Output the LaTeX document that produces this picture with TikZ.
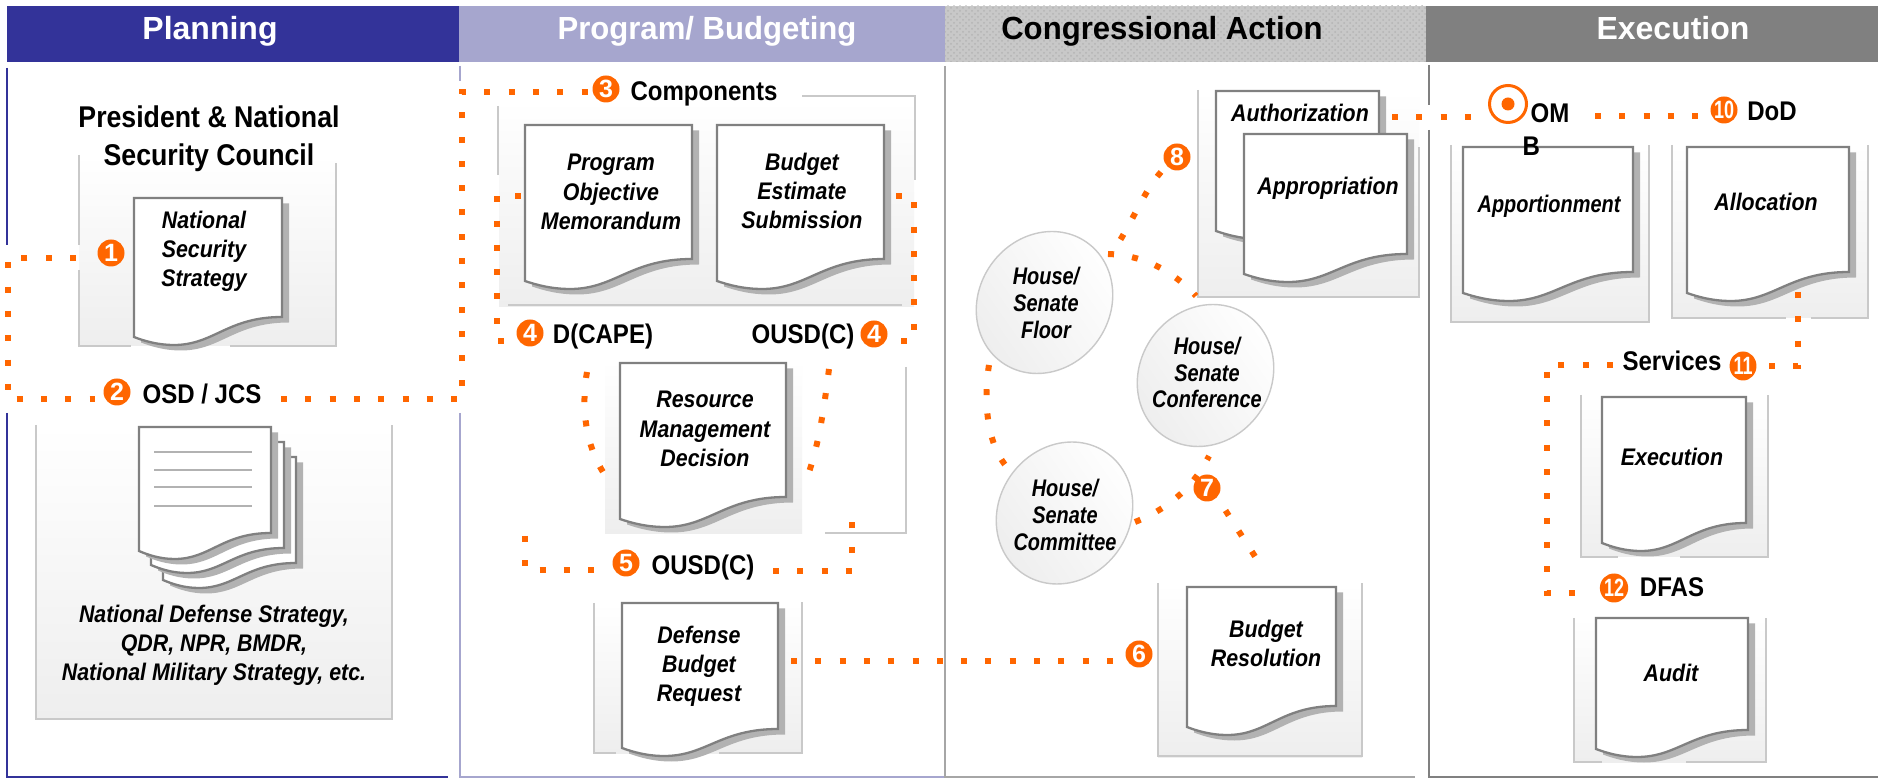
\documentclass[tikz,border=0pt]{standalone}
\usepackage{fontspec}
\usetikzlibrary{patterns,shapes.geometric}
\setmainfont{Liberation Sans}
\newfontfamily\condfont[FakeStretch=0.89]{Liberation Sans}
\newfontfamily\hdrfont[FakeStretch=0.972]{Liberation Sans}
\newfontfamily\tightfont[FakeStretch=0.83]{Liberation Sans}
\newfontfamily\narrowfont[FakeStretch=0.72]{Liberation Sans}
\definecolor{planblue}{HTML}{333399}
\definecolor{proglilac}{HTML}{A6A6CE}
\definecolor{congray}{HTML}{C8C8C8}
\definecolor{conhatch}{HTML}{B4B4B4}
\definecolor{execgray}{HTML}{808080}
\definecolor{dotorange}{HTML}{FF6600}
\definecolor{boxedge}{HTML}{C9C9C9}
\definecolor{boxlow}{HTML}{EEEEEE}
\definecolor{sheetedge}{HTML}{808080}
\definecolor{sheetshade}{HTML}{B2B2B2}
\tikzset{
  hdrtext/.style={font=\bfseries\fontsize{16}{19}\selectfont,inner sep=0pt,anchor=base},
  hdrnarrow/.style={hdrtext,font=\hdrfont\bfseries\fontsize{16}{19}\selectfont},
  lbl/.style={font=\condfont\bfseries\fontsize{13.5}{16}\selectfont,inner sep=0pt,text=black},
  titlelbl/.style={font=\condfont\bfseries\fontsize{15}{19}\selectfont,inner sep=0pt,align=center},
  doctext/.style={font=\condfont\bfseries\itshape\fontsize{12}{14.6}\selectfont,inner sep=0pt,align=center},
  tighttext/.style={font=\tightfont\bfseries\itshape\fontsize{12}{13.4}\selectfont,inner sep=0pt,align=center},
  dotline/.style={draw=dotorange,line width=3pt,dash pattern=on 3pt off 9.15pt},
  boxline/.style={draw=boxedge,line width=0.8pt},
  planline/.style={draw=planblue,line width=0.9pt},
  progline/.style={draw=proglilac,line width=0.9pt},
  congline/.style={draw=execgray!70,line width=0.9pt},
  execline/.style={draw=execgray,line width=0.9pt},
  boxfill/.style={top color=white,bottom color=boxlow,draw=none},
  sheetshadow/.style={fill=sheetshade,draw=none},
  sheetface/.style={fill=white,draw=sheetedge,line width=1.15pt,line join=miter},
  ruleline/.style={draw=sheetshade,line width=1pt},
  badge/.style={circle,fill=dotorange,text=white,minimum size=13.5pt,inner sep=0pt,
    font=\bfseries\fontsize{12.5}{13}\selectfont},
  oval/.style={ellipse,fill=dotorange,text=white,minimum width=13pt,minimum height=14.5pt,inner sep=0pt,
    font=\narrowfont\bfseries\fontsize{12.5}{13}\selectfont},
  bubble/.style={ellipse,draw=boxedge,line width=0.7pt,inner sep=0pt,minimum width=73.5pt,minimum height=65.5pt,
    rotate=55,top color=white,bottom color=boxlow,shading angle=-55},
}
\newcommand{\docsheet}[5]{%
  \pgfmathsetmacro\dwd{#3-#1}%
  \pgfmathsetmacro\dca{#3-0.37*\dwd}%
  \pgfmathsetmacro\dcb{#3-0.46*\dwd}%
  \pgfmathsetmacro\dmx{#1+0.27*\dwd}%
  \pgfmathsetmacro\dmy{#5+8}%
  \pgfmathsetmacro\dcc{#1+0.16*\dwd}%
  \pgfmathsetmacro\dcd{#1+0.07*\dwd}%
  \pgfmathsetmacro\dce{#5+4}%
  \fill[sheetshadow,shift={(7,5.5)}] (#1,#2) -- (#3,#2) -- (#3,#4)
     .. controls (\dca,#4) and (\dcb,\dmy) .. (\dmx,\dmy)
     .. controls (\dcc,\dmy) and (\dcd,\dce) .. (#1,#5) -- cycle;
  \filldraw[sheetface] (#1,#2) -- (#3,#2) -- (#3,#4)
     .. controls (\dca,#4) and (\dcb,\dmy) .. (\dmx,\dmy)
     .. controls (\dcc,\dmy) and (\dcd,\dce) .. (#1,#5) -- cycle;
}
\begin{document}
\begin{tikzpicture}[x=0.5pt,y=-0.5pt]
\useasboundingbox (0,0) rectangle (1878,779);
\fill[white] (0,0) rectangle (1878,779);

% header bands
\fill[planblue] (7,6) rectangle (459,62);
\fill[proglilac] (459,6) rectangle (945,62);
\fill[congray] (945,6) rectangle (1426,62);
\fill[pattern=crosshatch dots,pattern color=conhatch] (945,6) rectangle (1426,62);
\fill[execgray] (1426,6) rectangle (1878,62);
\node[hdrtext,text=white] (hPlan) at (210,40) {Planning};
\node[hdrnarrow,text=white] (hProg) at (707,40) {Program/ Budgeting};
\node[hdrnarrow,text=black] (hCong) at (1162,40) {Congressional Action};
\node[hdrtext,text=white] (hExec) at (1673,40) {Execution};

% panel rules
\draw[planline] (7,68) -- (7,245);
\draw[planline] (7,413) -- (7,777) -- (448,777);
\draw[progline] (460,66) -- (460,81);
\draw[progline] (460,413) -- (460,777) -- (945,777);
\draw[congline] (945,66) -- (945,777) -- (1415,777);
\draw[execline] (1429,65) -- (1429,105);
\draw[execline] (1429,130) -- (1429,777) -- (1878,777);

% shaded panels behind the documents
\shade[boxfill] (79,155) rectangle (336,346);
\draw[boxline] (79,155) -- (79,245);
\draw[boxline] (79,270) -- (79,346) -- (131,346);
\draw[boxline] (230,346) -- (336,346) -- (336,163);
\shade[boxfill] (36,425) rectangle (392,719);
\draw[boxline] (36,425) -- (36,719) -- (392,719) -- (392,425);
\shade[boxfill] (499,100) rectangle (914,307);
\draw[boxline] (498,106) -- (498,175);
\draw[boxline] (802,96) -- (915,96) -- (915,180);
\draw[boxline] (508,305) -- (902,305);
\shade[boxfill] (605,360) rectangle (802,534);
\draw[boxline] (906,367) -- (906,533) -- (825,533);
\shade[boxfill] (594,603) rectangle (802,753);
\draw[boxline] (594,603) -- (594,753) -- (616,753);
\draw[boxline] (719,753) -- (802,753) -- (802,602);
\shade[boxfill] (1198,90) rectangle (1419,297);
\draw[boxline] (1198,90) -- (1198,297) -- (1419,297) -- (1419,147);
\shade[boxfill] (1158,583) rectangle (1362,757);
\draw[boxline] (1158,583) -- (1158,756) -- (1362,756) -- (1362,583);
\shade[boxfill] (1451,145) rectangle (1649,322);
\draw[boxline] (1451,145) -- (1451,322) -- (1649,322) -- (1649,145);
\shade[boxfill] (1672,145) rectangle (1868,318);
\draw[boxline] (1672,145) -- (1672,318) -- (1786,318);
\draw[boxline] (1811,318) -- (1868,318) -- (1868,145);
\shade[boxfill] (1581,395) rectangle (1768,557);
\draw[boxline] (1581,395) -- (1581,557) -- (1618,557);
\draw[boxline] (1680,557) -- (1768,557) -- (1768,395);
\shade[boxfill] (1574,618) rectangle (1766,762);
\draw[boxline] (1574,618) -- (1574,762) -- (1602,762);
\draw[boxline] (1686,762) -- (1766,762) -- (1766,618);

% documents
\docsheet{134}{198}{282}{317}{337}
\docsheet{163}{457}{296}{563}{580}
\docsheet{151}{442}{284}{548}{565}
\docsheet{139}{427}{271}{533}{551}
\draw[ruleline] (154,452) -- (252,452);
\draw[ruleline] (154,470) -- (252,470);
\draw[ruleline] (154,487) -- (252,487);
\draw[ruleline] (154,506) -- (252,506);
\docsheet{525}{125}{692}{259}{281}
\docsheet{717}{125}{884}{259}{281}
\docsheet{620}{363}{786}{497}{519}
\docsheet{622}{603}{778}{729}{748}
\docsheet{1216}{91}{1379}{211}{231}
\docsheet{1244}{134}{1407}{254}{274}
\docsheet{1187}{587}{1336}{706}{727}
\docsheet{1463}{147}{1633}{272}{293}
\docsheet{1687}{147}{1849}{272}{293}
\docsheet{1602}{397}{1746}{523}{543}
\docsheet{1596}{618}{1748}{730}{749}

% committee bubbles
\node[bubble] (floorB) at (1044.5,302.5) {};
\node[bubble] (confB) at (1205.5,375.5) {};
\node[bubble] (commB) at (1064.5,513) {};

% badges
\node[badge] (b1) at (111,253) {1};
\node[badge] (b2) at (117,392) {2};
\node[badge] (b3) at (606,89) {3};
\node[badge] (b4a) at (530,333) {4};
\node[badge] (b4b) at (874,334) {4};
\node[badge] (b5) at (626,563) {5};
\node[badge] (b6) at (1139,654) {6};
\node[badge] (b8) at (1177,157) {8};
\node[circle,draw=dotorange,line width=1.5pt,fill=white,minimum size=18.5pt,inner sep=0pt] (b9) at (1508,104) {};
\fill[dotorange] (b9.center) circle (6.5);
\node[badge,font=\narrowfont\bfseries\fontsize{12.5}{13}\selectfont] (b10) at (1724,110) {10};
\node[oval] (b11) at (1743,366) {11};
\node[oval] (b12) at (1614,588) {12};

% connector way-points
\coordinate (p1s) at (76,258); \coordinate (p1a) at (7.5,258); \coordinate (p1b) at (7.5,399); \coordinate (p1e) at (95,399);
\coordinate (p2s) at (281,399); \coordinate (p2a) at (462,399); \coordinate (p2b) at (462,92); \coordinate (p2e) at (588,92);
\coordinate (p3s) at (521,196); \coordinate (p3a) at (497,196); \coordinate (p3b) at (497,341); \coordinate (p3e) at (512,341);
\coordinate (p4s) at (896,196); \coordinate (p4a) at (914,196); \coordinate (p4b) at (914,341); \coordinate (p4e) at (893,341);
\coordinate (p5s) at (587,372); \coordinate (p5e) at (603,472);
\coordinate (p6s) at (829,369); \coordinate (p6e) at (809,472);
\coordinate (p7s) at (525,536); \coordinate (p7a) at (525,570); \coordinate (p7e) at (595,570);
\coordinate (p8s) at (773,571); \coordinate (p8a) at (852,571); \coordinate (p8e) at (852,522);
\coordinate (p9s) at (791,661); \coordinate (p9e) at (1113,661);
\coordinate (p10s) at (1161,172); \coordinate (p10e) at (1111,254);
\coordinate (p11s) at (1108,254); \coordinate (p11e) at (1196,296);
\coordinate (p12s) at (989,365); \coordinate (p12e) at (1006,466);
\coordinate (p13s) at (1135,522); \coordinate (p13e) at (1209,456);
\coordinate (p14s) at (1225.5,510.5); \coordinate (p14e) at (1256,558);
\coordinate (p15s) at (1392,117); \coordinate (p15e) at (1471,117);
\coordinate (p16s) at (1595,116); \coordinate (p16e) at (1698,116);
\coordinate (p17s) at (1798,292); \coordinate (p17a) at (1798,366); \coordinate (p17e) at (1769,366);
\coordinate (p18s) at (1613,365); \coordinate (p18a) at (1547,365); \coordinate (p18b) at (1547,593); \coordinate (p18e) at (1575,593);

% dotted flow lines
\draw[dotline] (p1s) -- (p1a) -- (p1b) -- (p1e);
\draw[dotline] (p2s) -- (p2a) -- (p2b) -- (p2e);
\draw[dotline] (p3s) -- (p3a) -- (p3b) -- (p3e);
\draw[dotline] (p4s) -- (p4a) -- (p4b) -- (p4e);
\draw[dotline] (p5s) .. controls (582,400) and (583,440) .. (p5e);
\draw[dotline] (p6s) .. controls (825,400) and (820,440) .. (p6e);
\draw[dotline] (p7s) -- (p7a) -- (p7e);
\draw[dotline] (p8s) -- (p8a) -- (p8e);
\draw[dotline] (p9s) -- (p9e);
\draw[dotline] (p10s) .. controls (1143,192) and (1130,228) .. (p10e);
\draw[dotline] (p11s) .. controls (1140,255) and (1170,268) .. (p11e);
\draw[dotline] (p12s) .. controls (984,395) and (985,440) .. (p12e);
\draw[dotline] (p13s) .. controls (1165,510) and (1192,490) .. (p13e);
\draw[dotline] (p14s) -- (p14e);
\draw[dotline] (p15s) -- (p15e);
\draw[dotline] (p16s) -- (p16e);
\draw[dotline] (p17s) -- (p17a) -- (p17e);
\draw[dotline] (p18s) -- (p18a) -- (p18b) -- (p18e);
\node[badge] (b7) at (1207,488) {7};

% labels
\node[titlelbl] (tPres) at (209,138.5) {President \& National\\Security Council};
\node[lbl] (tOSD) at (202,394) {OSD / JCS};
\node[lbl] (tComp) at (704,93.5) {Components};
\node[lbl] (tCape) at (603,336.5) {D(CAPE)};
\node[lbl] (tOusdA) at (803,337) {OUSD(C)};
\node[lbl] (tOusdB) at (703,567.5) {OUSD(C)};
\node[lbl,align=left] (tOMB) at (1550,130) {OM\\[0.5pt]\hspace*{-4pt}B};
\node[lbl] (tDoD) at (1772,111) {DoD};
\node[lbl] (tServ) at (1672,361) {Services};
\node[lbl] (tDFAS) at (1672,587) {DFAS};

\node[doctext] (dNSS) at (204,251.5) {National\\Security\\Strategy};
\node[doctext] (dNDS) at (214,645) {National Defense Strategy,\\QDR, NPR, BMDR,\\National Military Strategy, etc.};
\node[doctext] (dPOM) at (611,192) {Program\\Objective\\Memorandum};
\node[doctext] (dBES) at (802,191) {Budget\\Estimate\\Submission};
\node[doctext] (dRMD) at (705,429) {Resource\\Management\\Decision};
\node[doctext] (dDBR) at (699,666) {Defense\\Budget\\Request};
\node[doctext] (dAuth) at (1300,113) {Authorization};
\node[doctext] (dApp) at (1328,188) {Appropriation};
\node[doctext] (dBud) at (1266,643.5) {Budget\\Resolution};
\node[tighttext] (dApt) at (1549,206) {Apportionment};
\node[doctext] (dAll) at (1766,202) {Allocation};
\node[doctext] (dExe) at (1672,457) {Execution};
\node[doctext] (dAud) at (1671,673) {Audit};
\node[tighttext] (tFloor) at (1046,303) {House/\\Senate\\Floor};
\node[tighttext] (tConf) at (1207,372.5) {House/\\Senate\\Conference};
\node[tighttext] (tComm) at (1065,515) {House/\\Senate\\Committee};
\end{tikzpicture}
\end{document}
